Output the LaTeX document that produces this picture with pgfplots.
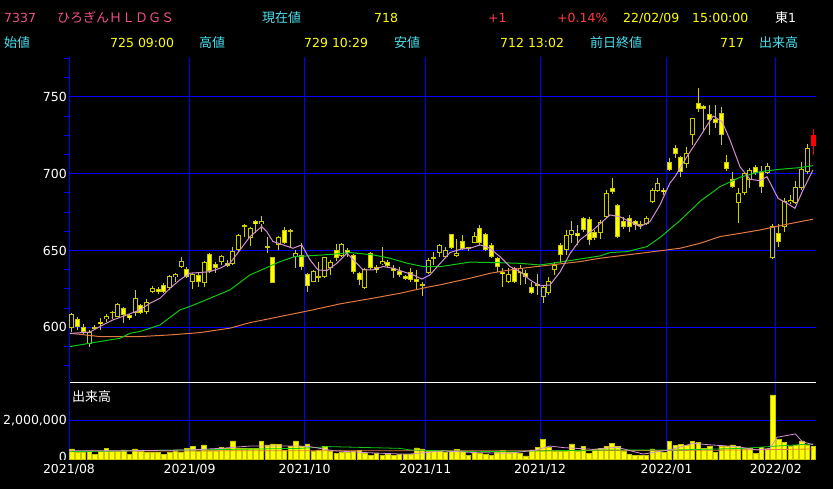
\documentclass[border=0pt]{standalone}
\usepackage{pgfplots}
\pgfplotsset{compat=1.18}
\usepackage{pgfplotstable}
\usepackage{fontspec}
\setmainfont{DejaVu Sans}
\newfontfamily\cjk{Noto Sans CJK JP}
\newcommand\hf{\fontsize{12.5}{14}\selectfont}
\newcommand\jf{\cjk\fontsize{13}{15}\selectfont}
\newcommand\twomil{2,000,000}
\definecolor{hpink}{HTML}{F0508C}
\definecolor{hcyan}{HTML}{48E0F0}
\definecolor{hyel}{HTML}{FFFF00}
\definecolor{hred}{HTML}{FF3C3C}
\definecolor{cyel}{HTML}{FFFF00}
\definecolor{colive}{HTML}{C8C800}
\definecolor{cwick}{HTML}{D0D000}
\definecolor{mapink}{HTML}{D68FD6}
\definecolor{magreen}{HTML}{10C810}
\definecolor{maorange}{HTML}{E07A40}
\definecolor{gblue}{HTML}{0000FF}

\pgfplotstableread{
i o h l c v
0 599.5 609.5 597 608.6 530000
1 605.5 607 598.5 600 340000
2 600.5 602.2 595.7 597.3 340000
3 589 598 587.5 597.3 390000
4 599.5 601.5 598 600 270000
5 603.5 606 598.4 602 390000
6 605.3 609 603.8 607.4 560000
7 610.3 610.8 605.3 609.2 390000
8 607 615.7 606.5 615.2 390000
9 612.5 613 603 608.1 480000
10 608.1 609 604.9 606 270000
11 609.2 624.4 607.5 619.4 530000
12 614.6 615.2 608.5 609.6 430000
13 609.8 618.5 609 616.8 340000
14 623.3 627.2 622.2 625.5 340000
15 624.8 626 621.8 623.3 340000
16 627.6 628.7 622.7 623.3 270000
17 625.5 634.2 624.4 633.5 340000
18 632.6 635.4 629.8 634.8 390000
19 639.1 645.6 638.5 643.2 340000
20 637.8 639.5 632 633 560000
21 629.8 635.3 624.8 634.8 650000
22 634.1 636.3 626.6 629.8 390000
23 629.2 643 626 642.4 740000
24 647.6 648.3 635.2 636.7 480000
25 641.3 642.8 635.2 638.9 480000
26 642.8 646.8 640.7 646.5 600000
27 641.7 643.9 639.6 640.2 560000
28 641.1 652.6 640.6 649.4 940000
29 650.4 661 649.5 660.2 560000
30 665.5 667.3 659.1 666.8 560000
31 658 665.6 653.3 664.5 560000
32 669.3 670 661.3 667.1 560000
33 667.1 672.6 662.4 669.3 910000
34 652.6 659 648.3 652 740000
35 645.6 646 628.8 629.2 790000
36 653.7 659.5 650.4 659.1 770000
37 663.5 665.6 654 654.8 440000
38 663.5 664 652.6 662.5 680000
39 645.6 650.4 638.5 648.3 940000
40 647.2 654.8 637.4 639 650000
41 634.8 635.2 623.3 627 790000
42 629.8 637.4 629.3 637 390000
43 633.3 642.8 629.8 632.8 480000
44 633 646 632 645.6 680000
45 638.9 644 634 642.8 390000
46 650.4 654.4 643.5 645.4 310000
47 646.5 655.2 646 654.4 340000
48 650.4 651.5 646 648.3 340000
49 647.2 648 635 636.3 430000
50 635.7 636.3 627.7 630.9 440000
51 625.5 638.5 624.8 637.9 310000
52 648.3 649.4 637.4 638.5 220000
53 639.2 640.7 635.3 637.4 310000
54 641.1 652.6 640.7 643.3 220000
55 642.8 644 639.6 640.2 260000
56 638.5 640.7 632 637 220000
57 636.8 639.6 633 634.2 270000
58 633.5 634.2 630.9 631.6 260000
59 636.3 638.5 629.8 630.9 270000
60 631.4 637.4 624.8 629.8 580000
61 628.3 629.8 620.2 627 530000
62 635.5 645 634.6 643.7 430000
63 645.2 649.3 640.6 645.6 390000
64 648.2 654.1 646 653.7 390000
65 646 652.1 645 650.4 340000
66 660.6 661 651 651.5 390000
67 646.5 657.3 646 648.7 510000
68 656.3 660.2 650.4 650.8 430000
69 652.1 652.5 650 650.8 220000
70 655.2 662.3 654.7 659.5 340000
71 664.5 666.7 653.6 654.7 310000
72 660.6 661.2 650 650.4 270000
73 653.6 654.7 645 646 220000
74 645.4 646 636.3 639.1 340000
75 636.3 638.5 626.1 634.8 440000
76 629.8 638.5 628.7 634.6 340000
77 638.5 639.6 629 629.8 340000
78 635.2 640.6 627.6 638.5 310000
79 635.6 637.4 628.3 633 170000
80 626.5 629.8 621.5 622.2 480000
81 628 635 621 627 600000
82 620 627 616.1 626 1030000
83 622.2 633 621 630.2 620000
84 637.4 642.8 634 640.6 430000
85 653.6 654.7 641.7 647.1 390000
86 650.4 663.4 647.1 660.4 430000
87 660.2 669.3 655 663.2 790000
88 661.3 666.7 653.7 659.5 430000
89 671 672 662 663.4 680000
90 670.4 672 653.7 656.9 310000
91 662.3 663.4 656.9 658 510000
92 661.3 670 657.3 668.8 560000
93 672.1 689.5 671 687.7 650000
94 690.5 697.5 687 688 820000
95 679.7 680.2 658.5 659.1 650000
96 669.5 672 664 665.2 430000
97 671.4 673.2 662.3 665.2 270000
98 669.3 670 663.4 666.7 220000
99 666.9 669.5 664 666.5 220000
100 667.3 672.5 666.7 671.4 220000
101 681.9 690.5 680.8 689.5 530000
102 689 697 688.4 694.2 390000
103 689.7 690.5 686.2 688.2 340000
104 707.5 710.5 702 702.7 910000
105 716.6 718.8 710.1 712.9 700000
106 710.7 711.5 698 701.4 770000
107 706.4 717.7 703.6 713.3 700000
108 725.3 736.5 718.8 736.1 910000
109 746.3 755.6 740.5 742 870000
110 744.4 744.8 727.4 742 560000
111 738.7 744.8 725.3 735 650000
112 735.7 744.8 730 732.9 340000
113 739.4 743.7 718.8 725.3 680000
114 707.9 712.2 702 702.9 680000
115 696.4 701.4 690.5 691.2 740000
116 681.2 690.5 668.2 687.3 650000
117 687.3 700.7 686.5 700.3 560000
118 696 703.6 690.5 702.5 560000
119 704.2 705.7 699.5 700.3 310000
120 701.4 705.1 687.7 691.2 600000
121 700.3 707.3 699.9 705.1 530000
122 645.3 667.3 644.3 666 3300000
123 661.2 667.3 652.6 655.8 1030000
124 665.6 684 662.3 682.3 860000
125 681.5 686 680 683 650000
126 680.8 695.3 680 691.2 700000
127 690.5 707.9 689.5 702.9 940000
128 701.4 719.4 700 717 740000
129 725 729 712 718 680000
}\ohlc

\pgfplotstableread{
i o h l c
129 725 729 712 718
}\lastday

\pgfplotstableread{
u p
0.17 596
3.65 597
5.92 601.6
7.66 604.9
10.09 608.1
12.36 611.4
14.1 615.7
15.84 619
17.58 625.5
19.32 631
21.06 635.3
22.8 635.7
24.54 636.3
26.28 638.5
28.02 641.8
29.76 650.4
31.5 659.1
33.54 665.6
34.41 662.4
35.5 655.9
37.24 653.7
38.98 651.5
40.5 653.7
41.94 644
43.33 637.4
44.9 637
46.64 641.8
48.38 648.3
49.77 642.9
51.17 637.4
52.91 637.4
54.65 639.6
56.39 638.5
58.13 636.3
59.87 634.2
61.43 631.4
62.83 634.2
64.57 641.5
66.31 648.7
68.05 650.8
69.79 651.5
71.53 653.7
73.27 651.5
75.01 646
76.75 639.5
78.49 636.3
80.23 630.9
81.97 627
83.71 627.6
85.45 636
87.19 648
88.93 657
91.19 663.4
94.15 673.2
95.89 672
99.37 665.6
101.1 668.8
102.85 679.7
104.59 694
105.46 698.1
107.55 711.2
109.81 724.2
112.08 737.6
113.64 734
115.03 722
116.77 704.6
118.51 696.4
120.25 695.5
121.47 698.1
123.39 684
124.95 680.8
126.34 677.5
127.74 689.5
129.48 702.5
}\mafive

\pgfplotstableread{
u p
0.17 587.5
5.4 590.8
8.88 592.9
10.62 596.2
12.36 597.3
15.84 601.6
19.32 611.4
21.06 613.6
24.54 619
28.02 624.4
31.5 634.2
33.24 637
36.72 642.8
39.33 646.1
41.42 646.5
45.95 647.6
48.9 648.7
52.91 647.2
55.87 645
58.82 641.8
61.61 639.6
64.57 639.5
69.79 642.5
75.01 642.1
78.49 641.7
81.97 640.6
85.45 642.5
88.93 644.5
92.41 646.5
94.15 648.7
97.11 649.3
100.59 652.6
102.85 658.5
106.33 669.5
109.81 682
113.29 691.6
116.77 697.7
120.25 701.4
123.74 702.9
127.22 704
129.48 705.3
}\matwf

\pgfplotstableread{
u p
0.17 596.2
5.4 594
12.36 594
17.58 595.1
22.8 596.6
28.02 599.5
31.5 603.1
33.24 604.4
42.46 611.4
47.16 615.3
52.91 619
57.61 622.2
62.3 626.1
64.57 627.7
69.79 632
73.27 635.2
76.75 637.4
80.23 639.1
83.71 640.6
88.93 642.8
92.41 645
99.37 648.2
106.33 651.5
109.81 654.7
113.29 659.1
116.77 661.2
120.25 663.4
123.74 666.2
127.22 668.8
129.48 670.4
}\masvf

\pgfplotstableread{
u v
0 440000
10.6 440000
21 480000
26.3 560000
31.5 680000
40.2 680000
41.9 650000
46 440000
51.9 340000
57.6 270000
59.3 270000
65.1 430000
71 340000
76.7 310000
81.4 480000
83.7 680000
86 600000
91.2 510000
95.4 620000
99.9 270000
104.6 480000
108.6 820000
111.6 740000
116.3 650000
119.7 480000
122 560000
123.2 1130000
126.4 1300000
127.6 910000
129.5 740000
}\vmafive

\pgfplotstableread{
u v
0 390000
40.2 560000
45.4 650000
57.6 560000
59.3 480000
71 390000
82.5 430000
94.2 480000
105.8 480000
117.3 560000
123.2 680000
129.5 790000
}\vmatwf

\pgfplotstableread{
u v
0 420000
40 440000
75 440000
110 460000
123.2 500000
129.5 530000
}\vmasvf

\begin{document}
\begin{tikzpicture}[x=1pt,y=1pt]
\useasboundingbox (0,0) rectangle (833,489);
\fill[black] (0,0) rectangle (833,489);
% header row 1
\begin{scope}[every node/.style={anchor=base west,inner sep=0pt}]
\node[text=hpink,font=\hf] at (4,466) {7337};
\node[text=hpink,font=\jf] at (57,466) {ひろぎんＨＬＤＧＳ};
\node[text=hcyan,font=\jf] at (262,466) {現在値};
\node[text=hyel,font=\hf] at (374,466) {718};
\node[text=hred,font=\hf] at (488,466) {+1};
\node[text=hred,font=\hf] at (557,466) {+0.14\%};
\node[text=hyel,font=\hf] at (623,466) {22/02/09};
\node[text=hyel,font=\hf] at (692,466) {15:00:00};
\node[text=white,font=\hf] at (775,466) {{\jf 東}1};
% header row 2
\node[text=hcyan,font=\jf] at (4,441.5) {始値};
\node[text=hyel,font=\hf] at (110,441.5) {725 09:00};
\node[text=hcyan,font=\jf] at (199,441.5) {高値};
\node[text=hyel,font=\hf] at (304,441.5) {729 10:29};
\node[text=hcyan,font=\jf] at (394,441.5) {安値};
\node[text=hyel,font=\hf] at (500,441.5) {712 13:02};
\node[text=hcyan,font=\jf] at (590,441.5) {前日終値};
\node[text=hyel,font=\hf] at (720,441.5) {717};
\node[text=hcyan,font=\jf] at (759,441.5) {出来高};
\end{scope}

% price panel
\begin{axis}[
  at={(69pt,106pt)}, anchor=south west, scale only axis,
  width=747pt, height=326pt,
  xmin=0, xmax=130, ymin=563.8, ymax=776,
  axis lines*=left, separate axis lines,
  x axis line style={white, line width=1pt, -},
  y axis line style={gblue, line width=1pt, -},
  xtick={0,21,41,62,82,104,123}, xticklabels={},
  ytick={600,650,700,750},
  xmajorgrids, ymajorgrids,
  grid style={gblue, line width=1pt},
  major tick length=0pt,
  minor ytick={575,587.5,612.5,625,637.5,662.5,675,687.5,712.5,725,737.5,762.5,775},
  minor tick length=5pt, tick align=outside,
  minor tick style={gblue, line width=1pt},
  yticklabel style={text=white, font=\hf, inner xsep=2pt},
  /pgf/number format/assume math mode=true,
]
% wicks
\addplot[draw=none, mark=none, error bars/.cd, y dir=both, y explicit, error mark=none,
  error bar style={draw=cwick, line width=1pt}]
  table[x expr=\thisrow{i}+0.5, y expr=(\thisrow{h}+\thisrow{l})/2, y error expr=(\thisrow{h}-\thisrow{l})/2] {\ohlc};
% body outline
\addplot[draw=none, mark=none, error bars/.cd, y dir=both, y explicit, error mark=none,
  error bar style={draw=colive, line width=5pt}]
  table[x expr=\thisrow{i}+0.5, y expr=(\thisrow{o}+\thisrow{c})/2, y error expr={max(abs(\thisrow{o}-\thisrow{c})/2,0.5)}] {\ohlc};
% hollow (up) interior
\addplot[draw=none, mark=none, error bars/.cd, y dir=both, y explicit, error mark=none,
  error bar style={draw=black, line width=3pt}]
  table[x expr=\thisrow{i}+0.5, y expr=(\thisrow{o}+\thisrow{c})/2, y error expr={\thisrow{c}>\thisrow{o} ? max(abs(\thisrow{c}-\thisrow{o})/2-0.65,0) : 0}] {\ohlc};
% filled (down) interior
\addplot[draw=none, mark=none, error bars/.cd, y dir=both, y explicit, error mark=none,
  error bar style={draw=cyel, line width=3pt}]
  table[x expr=\thisrow{i}+0.5, y expr=(\thisrow{o}+\thisrow{c})/2, y error expr={\thisrow{c}>\thisrow{o} ? 0 : max(abs(\thisrow{c}-\thisrow{o})/2-0.65,0)}] {\ohlc};
% last day in red
\addplot[draw=none, mark=none, error bars/.cd, y dir=both, y explicit, error mark=none,
  error bar style={draw=red, line width=1pt}]
  table[x expr=\thisrow{i}+0.5, y expr=(\thisrow{h}+\thisrow{l})/2, y error expr=(\thisrow{h}-\thisrow{l})/2] {\lastday};
\addplot[draw=none, mark=none, error bars/.cd, y dir=both, y explicit, error mark=none,
  error bar style={draw=red, line width=5pt}]
  table[x expr=\thisrow{i}+0.5, y expr=(\thisrow{o}+\thisrow{c})/2, y error expr={abs(\thisrow{o}-\thisrow{c})/2}] {\lastday};
% moving averages
\addplot[maorange, line width=1pt, mark=none] table[x=u, y=p] {\masvf};
\addplot[magreen, line width=1pt, mark=none] table[x=u, y=p] {\matwf};
\addplot[mapink, line width=1pt, mark=none] table[x=u, y=p] {\mafive};
\end{axis}

% volume panel
\begin{axis}[
  at={(69pt,29.7pt)}, anchor=south west, scale only axis,
  width=747pt, height=76.3pt,
  xmin=0, xmax=130, ymin=0, ymax=3913000,
  axis lines*=left, separate axis lines,
  x axis line style={draw=none},
  y axis line style={gblue, line width=1pt, -},
  xtick={0,21,41,62,82,104,123},
  xticklabels={2021/08,2021/09,2021/10,2021/11,2021/12,2022/01,2022/02},
  ytick={2000000}, yticklabels={\twomil},
  extra y ticks={0}, extra y tick labels={0},
  extra y tick style={grid=none, yticklabel style={yshift=2.5pt, inner ysep=0pt}},
  scaled y ticks=false,
  xmajorgrids, ymajorgrids,
  grid style={gblue, line width=1pt},
  major tick length=0pt,
  xticklabel style={text=white, font=\hf, inner ysep=5pt},
  yticklabel style={text=white, font=\hf, inner xsep=2pt},
]
\addplot[ybar, bar width=4.6pt, bar shift=0pt, fill=cyel, draw=colive, line width=0.6pt]
  table[x expr=\thisrow{i}+0.5, y=v] {\ohlc};
\addplot[maorange, line width=0.8pt, mark=none] table[x=u, y=v] {\vmasvf};
\addplot[magreen, line width=0.8pt, mark=none] table[x=u, y=v] {\vmatwf};
\addplot[mapink, line width=0.8pt, mark=none] table[x=u, y=v] {\vmafive};
\end{axis}
% the reference clips the lower half of the "0" volume tick label
\fill[black] (40,25.2) rectangle (68.3,29.2);
\node[anchor=base west, inner sep=0pt, text=white, font=\jf] at (72,87) {出来高};
\end{tikzpicture}
\end{document}
